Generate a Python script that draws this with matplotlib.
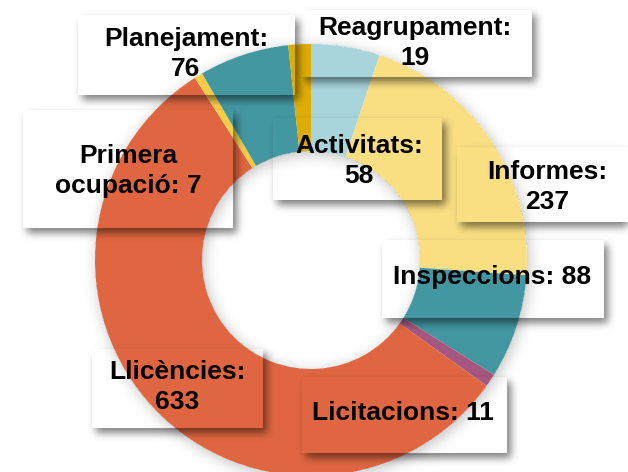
import numpy as np
import matplotlib.pyplot as plt

# slices, clockwise from 12 o'clock
categories = ['Activitats', 'Informes', 'Inspeccions', 'Licitacions',
              'Llicències', 'Primera ocupació', 'Planejament', 'Reagrupament']
values = [58, 237, 88, 11, 633, 7, 76, 19]
label_texts = ['Activitats:\n58', 'Informes:\n237', 'Inspeccions: 88',
               'Licitacions: 11', 'Llicències:\n633', 'Primera\nocupació: 7',
               'Planejament:\n76', 'Reagrupament:\n19']
colors = ['#a8d5dc', '#f9de82', '#4397a1', '#a6577f',
          '#e06641', '#f8cc45', '#4397a1', '#ddad06']

# layout in pixels (y measured from the top)
W, H = 628, 472
cx, cy = 311, 260
R, R_in = 216, 109
label_pos = [(359, 161), (547, 187), (492, 277), (403, 413),
             (177, 387), (128, 171), (186, 54), (415, 43)]
boxes = [(273, 118, 442, 200), (457, 147, 640, 222), (382, 240, 604, 318),
         (302, 377, 507, 453), (92, 349, 263, 428), (23, 110, 233, 228),
         (78, 15, 295, 95), (300, 10, 532, 77)]


def blur(a, s):
    k = np.exp(-0.5 * (np.arange(-3 * s, 3 * s + 1) / s) ** 2)
    k /= k.sum()
    a = np.apply_along_axis(lambda r: np.convolve(r, k, mode='same'), 1, a)
    a = np.apply_along_axis(lambda c: np.convolve(c, k, mode='same'), 0, a)
    return a


fig = plt.figure(figsize=(W / 100, H / 100), dpi=100)
ax = fig.add_axes([0, 0, 1, 1])

ax.pie(values, colors=colors, startangle=90, counterclock=False,
       radius=R, center=(cx, H - cy),
       wedgeprops=dict(width=R - R_in, linewidth=0))

# soft shadows: pie glow + box drop shadows (not inside the shapes)
yy, xx = np.mgrid[0:H, 0:W] + 0.5
rr = np.hypot(xx - cx - 2, yy - cy - 3)
ring = ((rr <= R) & (rr >= R_in)).astype(float)
glow = blur(ring, 7) * 0.25
r0 = np.hypot(xx - cx, yy - cy)
glow[(r0 <= R) & (r0 >= R_in)] = 0

shadow = np.zeros((H, W))
for x0, y0, x1, y1 in boxes:
    m = ((xx >= x0 + 4) & (xx < x1 + 4) & (yy >= y0 + 5) & (yy < y1 + 5)).astype(float)
    m = blur(m, 4) * 0.5
    m[(xx >= x0) & (xx < x1) & (yy >= y0) & (yy < y1)] = 0
    shadow = np.maximum(shadow, m)

alpha = 1 - (1 - glow) * (1 - shadow)
img = np.zeros((H, W, 4))
img[..., 3] = np.clip(alpha, 0, 1)
ax.imshow(img, extent=(0, W, 0, H), origin='upper', zorder=2,
          interpolation='bilinear', aspect='auto')

for txt, (x, y) in zip(label_texts, label_pos):
    ax.text(x, H - y, txt, ha='center', va='center', multialignment='center',
            fontsize=19, fontweight='bold', family='Liberation Sans',
            color='black', linespacing=1.28, zorder=3)

ax.set_xlim(0, W)
ax.set_ylim(0, H)
ax.set_aspect('auto')
ax.axis('off')

fig.savefig('out.png', dpi=100, facecolor='white')
